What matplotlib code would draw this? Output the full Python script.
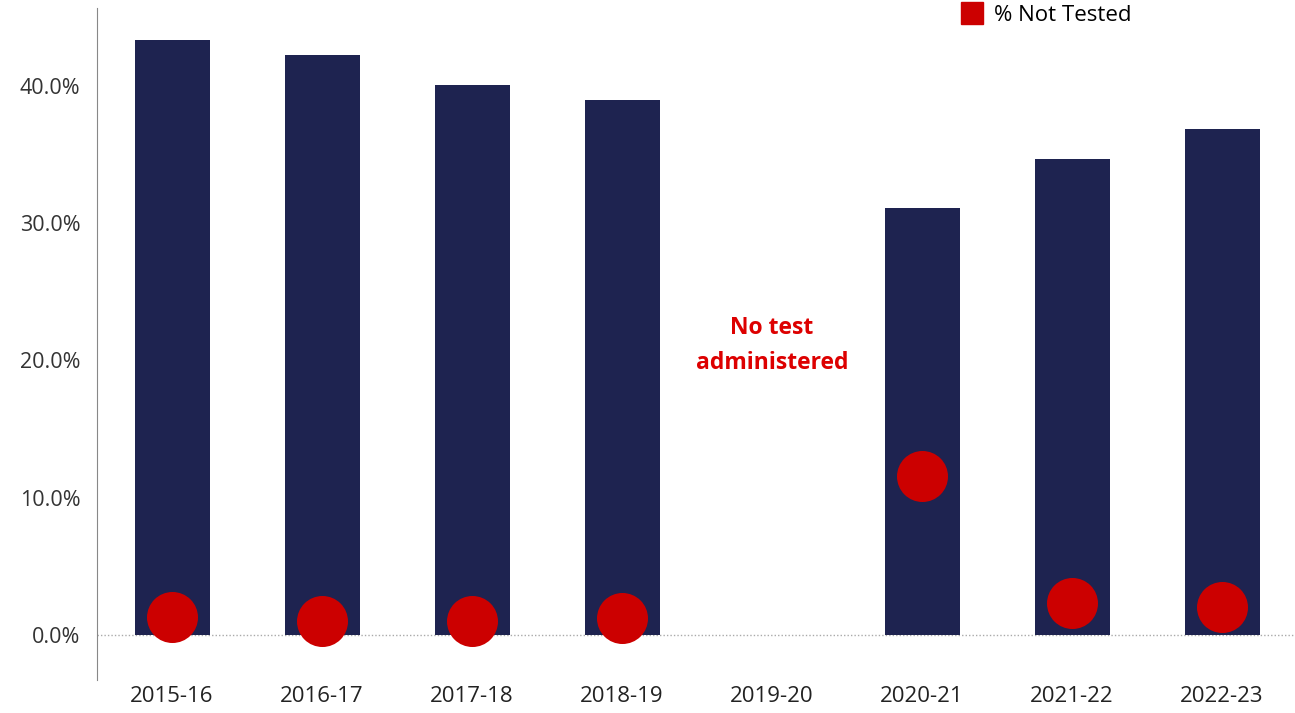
import matplotlib
matplotlib.use("Agg")
import matplotlib.pyplot as plt
from matplotlib.patches import Patch
from matplotlib.ticker import FuncFormatter
import numpy as np

years = ["2015-16", "2016-17", "2017-18", "2018-19", "2019-20", "2020-21", "2021-22", "2022-23"]
bar_values = [43.4, 42.3, 40.1, 39.0, None, 31.1, 34.7, 36.9]
not_tested = [1.3, 1.0, 1.0, 1.2, None, 11.6, 2.3, 2.0]
yticks = [0, 10, 20, 30, 40]

plt.rcParams['font.family'] = ['Open Sans', 'DejaVu Sans']

fig = plt.figure(figsize=(12.95, 7.13), dpi=100)
ax = fig.add_axes([97/1295, 33/713, 1200/1295, 672/713])

x = np.arange(len(years))
bx = [xi for xi, v in zip(x, bar_values) if v is not None]
bv = [v for v in bar_values if v is not None]
ax.bar(bx, bv, width=0.5, color="#1e2350", zorder=2)

mx = [xi for xi, v in zip(x, not_tested) if v is not None]
mv = [v for v in not_tested if v is not None]
ax.scatter(mx, mv, s=1350, color="#cc0000", zorder=3, linewidths=0)

ax.axhline(0, color="#aaaaaa", linestyle=(0, (1, 1.5)), linewidth=1, zorder=1)

ax.text(4, 21.1, "No test\nadministered", color="#dd0000", ha="center", va="center",
        fontsize=16.5, fontweight="bold", linespacing=1.6)

ax.set_xlim(-0.5, 7.5)
ax.set_ylim(-3.3, 45.7)
ax.set_xticks(x)
ax.set_xticklabels(years, fontsize=16, color="#222222")
ax.set_yticks(yticks)
ax.yaxis.set_major_formatter(FuncFormatter(lambda v, p: f"{v:.1f}%"))
ax.tick_params(axis="y", length=0, labelsize=15.5, labelcolor="#333333", pad=12)
ax.tick_params(axis="x", length=0, pad=4)

for s in ["top", "right", "bottom"]:
    ax.spines[s].set_visible(False)
ax.spines["left"].set_color("#888888")
ax.spines["left"].set_linewidth(0.8)

fig.legend(handles=[Patch(color="#cc0000", label="% Not Tested")],
           loc="center left", bbox_to_anchor=(952/1295, 1 - 14/713),
           frameon=False, fontsize=16, handlelength=1.0, handleheight=1.1,
           handletextpad=0.5, borderaxespad=0)

fig.savefig("out.png", dpi=100, facecolor="white")
